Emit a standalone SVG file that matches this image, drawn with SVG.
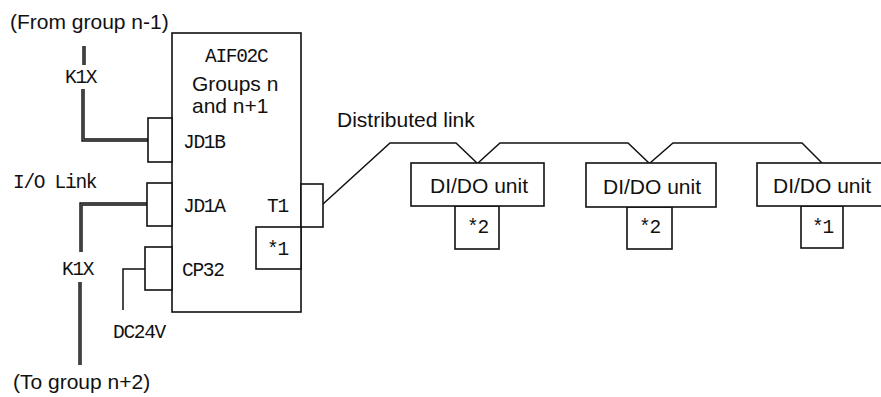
<svg xmlns="http://www.w3.org/2000/svg" width="881" height="397" viewBox="0 0 881 397">
<style>
.box{fill:#fff;stroke:#111;stroke-width:1.6}
.ln{fill:none;stroke:#111;stroke-width:1.5}
.cab{fill:none;stroke:#111;stroke-width:3.4}
.cabi{fill:none;stroke:#999;stroke-width:0.7}
.sans{font-family:"Liberation Sans",Arial,sans-serif;font-size:21px;fill:#111}
.mono{font-family:"Liberation Mono","Courier New",monospace;font-size:19.5px;letter-spacing:-1.3px;fill:#111}
</style>
<rect width="881" height="397" fill="#fff"/>
<g id="connectors">
  <path class="cab" d="M84,46 V65"/>
  <path class="cabi" d="M84,46 V65"/>
  <path class="cab" d="M83,89 V140 H148"/>
  <path class="cabi" d="M83,89 V140 H148"/>
  <path class="cab" d="M147,204 H81 V252"/>
  <path class="cabi" d="M147,204 H81 V252"/>
  <path class="cab" d="M80,282 V365"/>
  <path class="cabi" d="M80,282 V365"/>
  <path class="ln" d="M145,269 H123 V310"/>
  <path class="ln" d="M323,204 L390,143 H456 L477,163"/>
  <path class="ln" d="M478,163 L500,143 H628 L649,163"/>
  <path class="ln" d="M650,163 L673,143 H802 L822,163"/>
</g>
<g id="aif02c">
  <rect class="box" x="172" y="33" width="129" height="279"/>
  <text class="mono" x="205" y="62">AIF02C</text>
  <text class="sans" x="192" y="91">Groups n</text>
  <text class="sans" x="192" y="113">and n+1</text>
</g>
<g id="jd1b">
  <rect class="box" x="148" y="118" width="24" height="44"/>
  <text class="mono" x="183" y="148">JD1B</text>
</g>
<g id="jd1a">
  <rect class="box" x="147" y="183" width="25" height="43"/>
  <text class="mono" x="183" y="212">JD1A</text>
</g>
<g id="cp32">
  <rect class="box" x="145" y="247" width="27" height="43"/>
  <text class="mono" x="182" y="276">CP32</text>
</g>
<g id="t1">
  <rect class="box" x="301" y="184" width="22" height="43"/>
  <text class="mono" x="267" y="212">T1</text>
</g>
<g id="star1-main">
  <rect class="box" x="256" y="227" width="45" height="42"/>
  <text class="mono" x="267" y="255">*1</text>
</g>
<g id="unit1">
  <rect class="box" x="455" y="206" width="44" height="43"/>
  <text class="mono" x="467" y="233">*2</text>
  <rect class="box" x="411" y="163" width="133" height="43"/>
  <text class="sans" x="430" y="193">DI/DO unit</text>
</g>
<g id="unit2">
  <rect class="box" x="627" y="207" width="45" height="42"/>
  <text class="mono" x="639" y="233">*2</text>
  <rect class="box" x="586" y="163" width="130" height="44"/>
  <text class="sans" x="603" y="194">DI/DO unit</text>
</g>
<g id="unit3">
  <rect class="box" x="801" y="206" width="42" height="42"/>
  <text class="mono" x="812" y="233">*1</text>
  <rect class="box" x="757" y="163" width="140" height="43"/>
  <text class="sans" x="773" y="193">DI/DO unit</text>
</g>
<g id="labels">
  <text class="sans" x="10" y="29">(From group n-1)</text>
  <text class="mono" x="65" y="83">K1X</text>
  <text class="mono" x="13" y="188">I/O Link</text>
  <text class="mono" x="62" y="275">K1X</text>
  <text class="mono" x="113" y="338">DC24V</text>
  <text class="sans" x="13" y="389">(To group n+2)</text>
  <text class="sans" x="337" y="127">Distributed link</text>
</g>
</svg>
